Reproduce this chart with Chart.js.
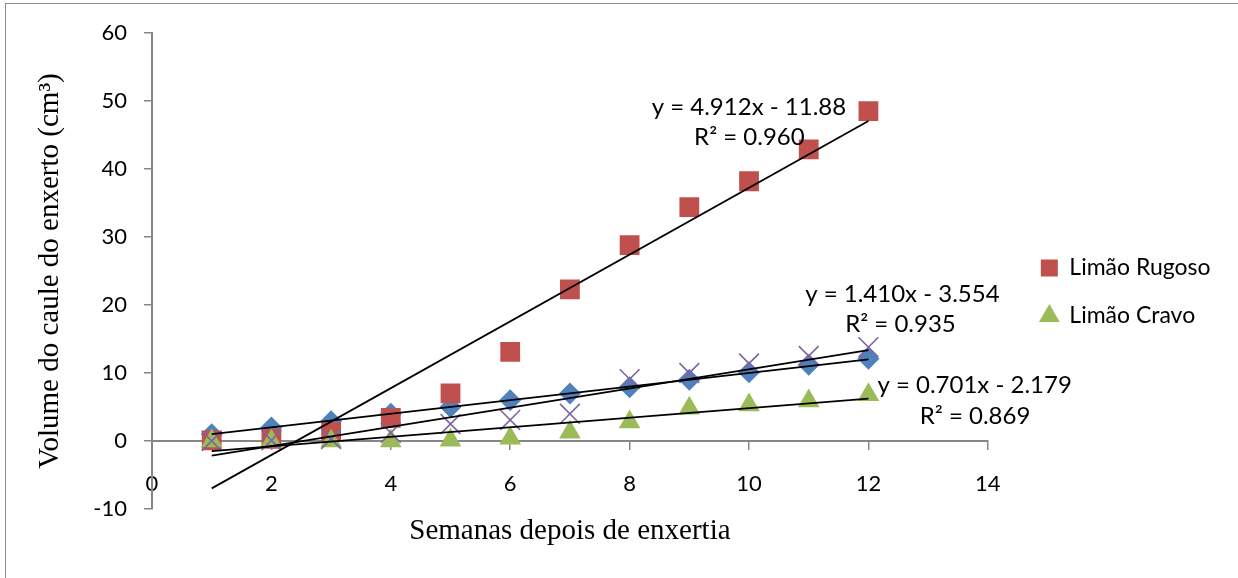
<!DOCTYPE html>
<html>
<head>
<meta charset="utf-8">
<script src="https://cdn.jsdelivr.net/npm/chart.js@4.4.1/dist/chart.umd.min.js"></script>
<style>
  html, body { margin: 0; padding: 0; background: #fff; overflow: hidden; }
  #frame { position: absolute; left: 5px; top: 3px; width: 1300px; height: 700px; border: 1.5px solid #8c8c8c; }
  #chart { position: absolute; left: 0; top: 0; }
</style>
</head>
<body>
<div id="frame"></div>
<canvas id="chart" width="1238" height="578"></canvas>
<script>
// semanas depois de enxertia
var weeks = [1, 2, 3, 4, 5, 6, 7, 8, 9, 10, 11, 12];

// series
var seriesBlue   = [1, 2, 2.9, 4, 5, 6, 7, 7.9, 9, 10.1, 11.2, 12.1];
var limaoRugoso  = [0.1, 0.3, 1.3, 3.4, 7.0, 13.1, 22.3, 28.8, 34.4, 38.2, 42.9, 48.5];
var limaoCravo   = [0, 0, 0, 0, 0.1, 0.4, 1.3, 2.8, 4.8, 5.3, 5.9, 6.8];
var seriesPurple = [0, 0.1, 0.3, 1.2, 2.5, 3.1, 4.0, 9.1, 10.0, 11.4, 12.5, 13.8];

// trendlines: [slope, intercept]
var trendBlue   = [1.0, 0.0];
var trendRugoso = [4.912, -11.88];
var trendPurple = [1.410, -3.554];
var trendCravo  = [0.701, -2.179];

var trendTexts = [
	"y = 4.912x - 11.88", "R\u00b2 = 0.960",
	"y = 1.410x - 3.554", "R\u00b2 = 0.935",
	"y = 0.701x - 2.179", "R\u00b2 = 0.869"
];

var xTicks = [0, 2, 4, 6, 8, 10, 12, 14];
var yTicks = [-10, 0, 10, 20, 30, 40, 50, 60];

function points(ys){
	return weeks.map(function(x, i){ return {x: x, y: ys[i]}; });
}

function trend(coef){
	var first = weeks[0], last = weeks[weeks.length - 1];
	return [
		{x: first, y: coef[0] * first + coef[1]},
		{x: last, y: coef[0] * last + coef[1]}
	];
}

function trendSet(coef){
	return {
		label: "trend",
		data: trend(coef),
		showLine: true,
		borderColor: "#000",
		borderWidth: 1.75,
		pointRadius: 0,
		order: 0
	};
}

var gray = "#868686";

// trendline equations, placed in axis units (left edge, middle)
var trendLabelPlugin = {
	id: "trendLabels",
	afterDatasetsDraw: function(chart){
		var xs = chart.scales.x, ys = chart.scales.y, ctx = chart.ctx;
		var spots = [[8.37, 49.1], [9.08, 44.6], [10.94, 21.6], [11.61, 17.1], [12.15, 8.2], [12.86, 3.7]];
		ctx.save();
		ctx.font = "24px Lato";
		ctx.fillStyle = "#000";
		ctx.textAlign = "left";
		ctx.textBaseline = "middle";
		trendTexts.forEach(function(t, i){
			ctx.fillText(t, xs.getPixelForValue(spots[i][0]), ys.getPixelForValue(spots[i][1]));
		});
		ctx.restore();
	}
};

new Chart(document.getElementById("chart"), {
	type: "scatter",
	data: {
		datasets: [
			{
				label: "Series1",
				data: points(seriesBlue),
				pointStyle: "rectRot",
				pointRadius: 11,
				backgroundColor: "#4F81BD",
				borderColor: "#4F81BD",
				borderWidth: 0,
				order: 4
			},
			{
				label: "Lim\u00e3o Rugoso",
				data: points(limaoRugoso),
				pointStyle: "rect",
				pointRadius: 14,
				backgroundColor: "#C0504D",
				borderColor: "#C0504D",
				borderWidth: 0,
				order: 3
			},
			{
				label: "Lim\u00e3o Cravo",
				data: points(limaoCravo),
				pointStyle: "triangle",
				pointRadius: 12.5,
				backgroundColor: "#9BBB59",
				borderColor: "#9BBB59",
				borderWidth: 0,
				order: 2
			},
			{
				label: "Series4",
				data: points(seriesPurple),
				pointStyle: "crossRot",
				pointRadius: 14,
				backgroundColor: "#8064A2",
				borderColor: "#8064A2",
				borderWidth: 1.6,
				order: 1
			},
			trendSet(trendBlue),
			trendSet(trendRugoso),
			trendSet(trendPurple),
			trendSet(trendCravo)
		]
	},
	options: {
		responsive: false,
		animation: false,
		layout: { padding: { left: 5, top: 33, bottom: 69, right: 20 } },
		plugins: {
			tooltip: { enabled: false },
			legend: {
				position: "right",
				align: "center",
				fullSize: false,
				title: { display: true, text: "", font: { size: 10 }, padding: { top: 30, bottom: 0 } },
				labels: {
					usePointStyle: true,
					boxWidth: 17,
					boxHeight: 17,
					padding: 25,
					color: "#000",
					font: { family: "Lato", size: 23 },
					filter: function(item){ return item.datasetIndex === 1 || item.datasetIndex === 2; },
					sort: function(a, b){ return a.datasetIndex - b.datasetIndex; }
				}
			}
		},
		scales: {
			x: {
				type: "linear",
				position: { y: 0 },
				min: 0,
				max: 14,
				afterBuildTicks: function(scale){
					scale.ticks = xTicks.map(function(v){ return {value: v}; });
				},
				grid: { display: true, drawOnChartArea: false, drawTicks: true, tickLength: 8, color: gray, lineWidth: 1.5 },
				border: { display: true, color: gray, width: 2 },
				ticks: { color: "#000", padding: 22, font: { family: "Lato", size: 22 } },
				title: {
					display: true,
					text: "Semanas depois de enxertia",
					color: "#000",
					font: { family: "Liberation Serif", size: 29 },
					padding: { top: -5, bottom: 0 }
				}
			},
			y: {
				type: "linear",
				position: "left",
				min: -10,
				max: 60,
				afterBuildTicks: function(scale){
					scale.ticks = yTicks.map(function(v){ return {value: v}; });
				},
				afterFit: function(scale){ scale.width = 147; },
				grid: { display: true, drawOnChartArea: false, drawTicks: true, tickLength: 8, color: gray, lineWidth: 1.5 },
				border: { display: true, color: gray, width: 2 },
				ticks: { color: "#000", padding: 17, font: { family: "Lato", size: 22 } },
				title: {
					display: true,
					text: "Volume do caule do enxerto (cm\u00b3)",
					color: "#000",
					font: { family: "Liberation Serif", size: 29 },
					padding: { top: 28, bottom: 0 }
				}
			},
			yR: {
				type: "linear",
				position: "right",
				display: true,
				grid: { display: false },
				border: { display: false },
				ticks: { display: false },
				afterFit: function(scale){ scale.width = 28; }
			}
		}
	},
	plugins: [trendLabelPlugin]
});
</script>
</body>
</html>
